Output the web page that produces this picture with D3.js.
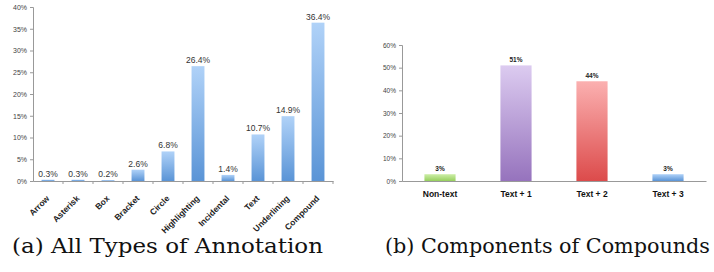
<!DOCTYPE html>
<html>
<head>
<meta charset="utf-8">
<script src="https://cdn.jsdelivr.net/npm/d3@7"></script>
<style>
  body { margin: 0; background: #fff; }
  svg { display: block; }
  .caption { font-family: "DejaVu Serif", "Liberation Serif", serif; }
</style>
</head>
<body>
<svg id="chart" width="714" height="272"></svg>
<script>
// ---- data ----
var typeNames = ["Arrow", "Asterisk", "Box", "Bracket", "Circle", "Highlighting", "Incidental", "Text", "Underlining", "Compound"];
var typeValues = [0.3, 0.3, 0.2, 2.6, 6.8, 26.4, 1.4, 10.7, 14.9, 36.4];
var typeTicks = [0, 5, 10, 15, 20, 25, 30, 35, 40];

var compNames = ["Non-text", "Text + 1", "Text + 2", "Text + 3"];
var compValues = [3, 51, 44, 3];
var compTicks = [0, 10, 20, 30, 40, 50, 60];

var svg = d3.select("#chart");
var defs = svg.append("defs");

// gradients: [id, top colour, bottom colour]
var gradients = [
  ["gBlue", "#b0d2f8", "#5a94d6"],
  ["gGreen", "#cdeea8", "#97cf5e"],
  ["gPurple", "#dccbf0", "#9673bd"],
  ["gRed", "#fbb0b0", "#dc4b4b"]
];
gradients.forEach(function(g){
  var lg = defs.append("linearGradient").attr("id", g[0])
    .attr("x1", 0).attr("y1", 0).attr("x2", 0).attr("y2", 1);
  lg.append("stop").attr("offset", "0%").attr("stop-color", g[1]);
  lg.append("stop").attr("offset", "100%").attr("stop-color", g[2]);
});
var compFills = ["url(#gGreen)", "url(#gPurple)", "url(#gRed)", "url(#gBlue)"];

var sans = "Liberation Sans, Arial, sans-serif";

//=================== chart (a) ===================
var xa = d3.scaleBand().domain(typeNames).range([33, 333]).paddingInner(0.57).paddingOuter(0.285);
var ya = d3.scaleLinear().domain([0, 40]).range([181, 7]);

var ga = svg.append("g");

ga.append("g")
  .attr("transform", "translate(33,0)")
  .call(d3.axisLeft(ya).tickValues(typeTicks).tickSize(3).tickFormat(function(d){ return d + "%"; }))
  .call(function(g){
    g.selectAll("path, line").attr("stroke", "#999");
    g.selectAll("text").attr("font-family", sans).attr("font-size", 7).attr("fill", "#444");
  });

var xaxA = ga.append("g")
  .attr("transform", "translate(0,181)")
  .call(d3.axisBottom(xa).tickSize(3).tickSizeOuter(0));
xaxA.selectAll("path, line").attr("stroke", "#999");
// ticks sit between categories
xaxA.selectAll(".tick line").attr("x1", xa.step() / 2).attr("x2", xa.step() / 2);
xaxA.selectAll(".tick text")
  .attr("font-family", sans)
  .attr("font-size", 8.5)
  .attr("font-weight", "bold")
  .attr("fill", "#222")
  .attr("text-anchor", "end")
  .attr("x", 0).attr("y", 0).attr("dy", 0)
  .attr("transform", "translate(2,18) rotate(-45)");

ga.selectAll("rect.bar")
  .data(typeValues)
  .enter().append("rect")
  .attr("class", "bar")
  .attr("x", function(d, i){ return xa(typeNames[i]); })
  .attr("width", xa.bandwidth())
  .attr("y", function(d){ return ya(d); })
  .attr("height", function(d){ return ya(0) - ya(d); })
  .attr("fill", "url(#gBlue)");

ga.selectAll("text.val")
  .data(typeValues)
  .enter().append("text")
  .attr("class", "val")
  .attr("x", function(d, i){ return xa(typeNames[i]) + xa.bandwidth() / 2; })
  .attr("y", function(d){ return ya(d) - 3; })
  .attr("text-anchor", "middle")
  .attr("font-family", sans)
  .attr("font-size", 8.5)
  .attr("fill", "#333")
  .text(function(d){ return d.toFixed(1) + "%"; });

//=================== chart (b) ===================
var xb = d3.scaleBand().domain(compNames).range([402, 706]).paddingInner(0.59).paddingOuter(0.295);
var yb = d3.scaleLinear().domain([0, 60]).range([181, 45]);

var gb = svg.append("g");

gb.append("g")
  .attr("transform", "translate(402,0)")
  .call(d3.axisLeft(yb).tickValues(compTicks).tickSize(3).tickFormat(function(d){ return d + "%"; }))
  .call(function(g){
    g.selectAll("path, line").attr("stroke", "#999");
    g.selectAll("text").attr("font-family", sans).attr("font-size", 6.5).attr("fill", "#444");
  });

var xaxB = gb.append("g")
  .attr("transform", "translate(0,181)")
  .call(d3.axisBottom(xb).tickSize(0).tickSizeOuter(0));
xaxB.selectAll("path").attr("stroke", "#999");
xaxB.selectAll(".tick text")
  .attr("font-family", sans)
  .attr("font-size", 8.5)
  .attr("font-weight", "bold")
  .attr("fill", "#111")
  .attr("y", 16).attr("dy", 0);

gb.selectAll("rect.bar")
  .data(compValues)
  .enter().append("rect")
  .attr("class", "bar")
  .attr("x", function(d, i){ return xb(compNames[i]); })
  .attr("width", xb.bandwidth())
  .attr("y", function(d){ return yb(d); })
  .attr("height", function(d){ return yb(0) - yb(d); })
  .attr("fill", function(d, i){ return compFills[i]; });

gb.selectAll("text.val")
  .data(compValues)
  .enter().append("text")
  .attr("class", "val")
  .attr("x", function(d, i){ return xb(compNames[i]) + xb.bandwidth() / 2; })
  .attr("y", function(d){ return yb(d) - 3; })
  .attr("text-anchor", "middle")
  .attr("font-family", sans)
  .attr("font-size", 6.5)
  .attr("font-weight", "bold")
  .attr("fill", "#222")
  .text(function(d){ return d + "%"; });

//=================== captions ===================
svg.append("text")
  .attr("class", "caption")
  .attr("x", 12).attr("y", 253)
  .attr("font-size", 21)
  .attr("textLength", 311)
  .attr("lengthAdjust", "spacingAndGlyphs")
  .attr("fill", "#111")
  .text("(a) All Types of Annotation");

svg.append("text")
  .attr("class", "caption")
  .attr("x", 385).attr("y", 253)
  .attr("font-size", 21)
  .attr("textLength", 325)
  .attr("lengthAdjust", "spacingAndGlyphs")
  .attr("fill", "#111")
  .text("(b) Components of Compounds");
</script>
</body>
</html>
